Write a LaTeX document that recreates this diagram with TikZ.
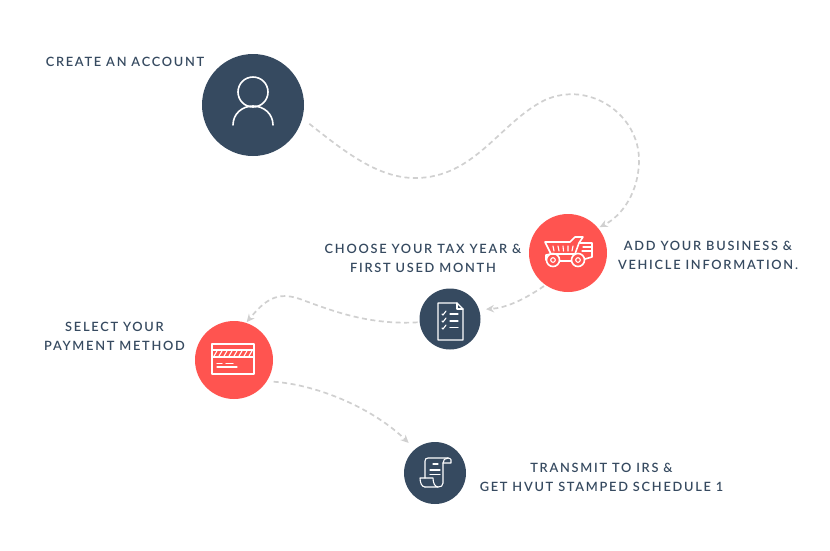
\documentclass[tikz,border=0pt]{standalone}
\usepackage{fontspec}
\setmainfont[LetterSpace=13.5]{Lato Semibold}
\usetikzlibrary{arrows.meta}
\definecolor{navy}{HTML}{364A60}
\definecolor{coral}{HTML}{FF5450}
\definecolor{dashgray}{HTML}{D0D0D0}
\tikzset{
  x=1pt,y=-1pt,
  disc/.style={circle,inner sep=0pt,outer sep=0pt,minimum size=#1,fill=navy},
  hot/.style={fill=coral},
  lbl/.style={text=navy,font=\fontsize{12.8}{19}\selectfont,align=center,inner sep=0pt},
  flow/.style={draw=dashgray,line width=1.7pt,dash pattern=on 5pt off 3.5pt,-{Stealth[length=8pt,width=7.5pt,fill=dashgray]}},
  icon/.style={draw=white,line width=1.6pt,line cap=round,line join=round},
  thin icon/.style={draw=white,line width=1.1pt,line cap=round,line join=round}
}
\begin{document}
\begin{tikzpicture}
\useasboundingbox (0,0) rectangle (830,550);
% discs
\node[disc=102pt] (user) at (253,105) {};
\node[disc=78pt,hot] (truck) at (568,253) {};
\node[disc=61pt] (doc) at (450,319) {};
\node[disc=78pt,hot] (card) at (234,360) {};
\node[disc=62pt] (scroll) at (435,473) {};
% labels
\node[lbl] (t1) at (125,61.5) {CREATE AN ACCOUNT};
\node[lbl] (t2) at (423,258.5) {CHOOSE YOUR TAX YEAR \&\\FIRST USED MONTH};
\node[lbl] (t3) at (708,255.5) {ADD YOUR BUSINESS \&\\VEHICLE INFORMATION.};
\node[lbl] (t4) at (114.5,336.5) {SELECT YOUR\\PAYMENT METHOD};
\node[lbl] (t5) at (601.5,477.5) {TRANSMIT TO IRS \&\\GET HVUT STAMPED SCHEDULE 1};
% connectors
\draw[flow,shorten <=9pt,shorten >=2pt] (user.-15) .. controls (345,152) and (378,178) .. (415,178)
  .. controls (475,178) and (500,122) .. (545,100)
  .. controls (590,80) and (639,115) .. (639,160)
  .. controls (639,192) and (622,216) .. (truck.40);
\draw[flow,shorten <=2pt,shorten >=7pt] (truck.-125) .. controls (522,301) and (505,308) .. (doc.18);
\draw[flow,shorten <=2pt,shorten >=1pt] (doc.186) .. controls (370,325) and (335,312) .. (300,299)
  .. controls (277,291) and (265,300) .. (card.72);
\draw[flow,shorten <=7pt,shorten >=9pt] (card.-33) .. controls (320,385) and (375,410) .. (scroll.130);
% user icon
\begin{scope}[shift={(user.center)}]
\draw[icon] (0,-13) circle (15);
\draw[icon] (-20,20) .. controls (-20,9) and (-11,1) .. (0,1) .. controls (11,1) and (20,9) .. (20,20);
\end{scope}
% truck icon
\begin{scope}[shift={(truck.center)}]
\draw[icon] (-23,-11) -- (2,-11) -- (7,-16) -- (15,-16) -- (11,-10) -- (7,1) -- (-17,1) -- cycle;
\draw[thin icon] (-15,-7) -- (-14,-2) (-10,-7) -- (-9,-2) (-5,-7) -- (-4.5,-2) (0,-7) -- (0,-2) (5,-7) -- (4,-2);
\draw[icon] (12,-10) -- (24,-10) -- (24,4) -- (17,6);
\draw[thin icon] (15,-6) -- (24,-6) -- (24,-2) -- (14,-2);
\draw[icon] (-8,8) -- (3,8) (-22,7) -- (-22,2) (-17,1) -- (-22,2);
\draw[icon] (-15,7) circle (6.5);
\draw[icon] (10,7) circle (6.5);
\draw[thin icon] (-15,7) circle (2.3);
\draw[thin icon] (10,7) circle (2.3);
\end{scope}
% document icon
\begin{scope}[shift={(doc.center)}]
\draw[thin icon] (-12,-16) -- (7,-16) -- (13,-10) -- (13,21) -- (-12,21) -- cycle;
\draw[thin icon] (7,-16) -- (7,-10) -- (13,-10);
\draw[thin icon] (-8,-5) -- (-7,-4) -- (-4,-8) (-8,2) -- (-7,3) -- (-4,-1) (-8,9) -- (-7,10) -- (-4,6);
\draw[thin icon] (0,-5) -- (8,-5) (0,2) -- (8,2) (0,8.5) -- (8,8.5);
\end{scope}
% card icon
\begin{scope}[shift={(card.center)}]
\draw[icon] (-22,-16) rectangle (20,14);
\draw[thin icon] (-22,-10) -- (20,-10) (-22,-3) -- (20,-3);
\foreach \k in {-20,-15,...,16}{\draw[thin icon] (\k,-4) -- (\k+3,-9);}
\draw[thin icon] (-17,3.5) -- (-12,3.5) (-8,3.5) -- (-1,3.5) (-17,7) -- (3,7);
\end{scope}
% scroll icon
\begin{scope}[shift={(scroll.center)}]
\draw[thin icon] (-10,5) -- (-10,-12) .. controls (-10,-14) and (-9,-15) .. (-7,-15) -- (13,-15);
\draw[thin icon] (13,-15) .. controls (16,-15) and (17,-12) .. (16,-10) -- (8,-10);
\draw[thin icon] (13,-15) .. controls (10,-15) and (8,-13) .. (8,-10) -- (8,10) .. controls (8,13) and (6,14) .. (3,14) -- (-10,14);
\draw[thin icon] (-10,14) .. controls (-13,14) and (-15,10) .. (-15,5) -- (-2,5) .. controls (-2,10) and (0,14) .. (3,14);
\draw[thin icon] (-2,-9) -- (3,-9) (-5,-3) -- (5,-3) (-5,1.5) -- (5,1.5);
\end{scope}
\end{tikzpicture}
\end{document}
